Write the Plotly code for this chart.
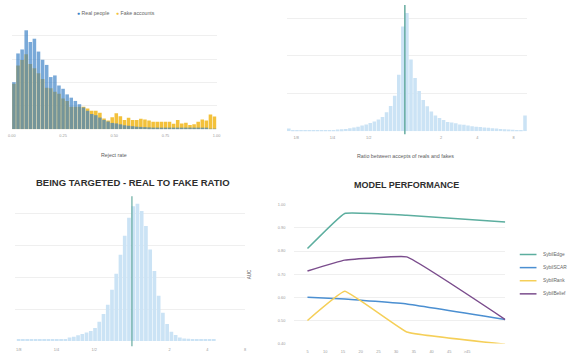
import math
import plotly.graph_objects as go

W, H = 572, 364

# ---------------- data ----------------
# Panel 1: reject rate histogram (50 bins of width 0.02 on [0, 1])
reject_bin_width = 0.02
reject_rate_bins = [round(reject_bin_width * (i + 0.5), 3) for i in range(50)]
real_people = [2.01, 3.24, 3.41, 4.23, 3.73, 3.87, 3.32, 2.97, 2.75, 2.23,
               2.30, 1.87, 1.73, 1.49, 1.35, 1.21, 1.07, 0.93, 0.79, 0.65,
               0.60, 0.50, 0.40, 0.33, 0.27, 0.25, 0.21, 0.17, 0.15, 0.13,
               0.11, 0.10, 0.09, 0.08, 0.07, 0.07, 0.06, 0.06, 0.05, 0.05,
               0.05, 0.04, 0.04, 0.04, 0.03, 0.03, 0.03, 0.03, 0.02, 0.02]
fake_accounts = [1.94, 2.72, 2.96, 3.21, 2.79, 2.61, 2.39, 2.15, 1.77, 1.75,
                 1.60, 1.52, 1.31, 1.21, 0.96, 0.96, 0.96, 0.96, 0.89, 0.79,
                 0.79, 0.70, 0.46, 0.37, 0.51, 0.68, 0.56, 0.39, 0.49, 0.39,
                 0.39, 0.45, 0.42, 0.37, 0.32, 0.32, 0.32, 0.32, 0.32, 0.23,
                 0.39, 0.25, 0.28, 0.18, 0.21, 0.32, 0.42, 0.37, 0.63, 0.54]
reject_ticks = [0, 0.25, 0.5, 0.75, 1.0]
reject_ticktext = ["0.00", "0.25", "0.50", "0.75", "1.00"]

# Panel 2: ratio between accepts of reals and fakes (log2 bins)
ratio_bin_width = 0.1125          # in octaves
accepts_bin_start = -3.2625
accepts_ratio_counts = [0.07, 0.02, 0.02, 0.02, 0.02, 0.025, 0.025, 0.03, 0.03, 0.03,
                        0.03, 0.035, 0.045, 0.05, 0.06, 0.08, 0.10, 0.12, 0.15, 0.18,
                        0.22, 0.26, 0.31, 0.38, 0.50, 0.67, 0.94, 1.50, 2.78, 3.14,
                        1.90, 1.41, 1.07, 0.83, 0.66, 0.52, 0.42, 0.35, 0.30, 0.245,
                        0.23, 0.21, 0.18, 0.17, 0.15, 0.13, 0.12, 0.11, 0.10, 0.09,
                        0.08, 0.07, 0.06, 0.05, 0.045, 0.04, 0.035, 0.03, 0.42]
accepts_bins = [accepts_bin_start + ratio_bin_width * (i + 0.5) for i in range(len(accepts_ratio_counts))]

# Panel 3: being targeted - real to fake ratio
targeted_bin_start = -3.06
targeted_ratio_counts = [0.05, 0.05, 0.04, 0.05, 0.04, 0.05, 0.04, 0.05, 0.04, 0.05,
                         0.05, 0.06, 0.11, 0.13, 0.18, 0.22, 0.27, 0.31, 0.41, 0.60,
                         0.85, 1.14, 1.61, 2.11, 2.71, 3.30, 3.87, 4.23, 4.31, 4.08,
                         3.61, 2.87, 2.20, 1.42, 0.89, 0.53, 0.29, 0.19, 0.11, 0.08,
                         0.07, 0.06, 0.06, 0.05, 0.05, 0.06, 0.05]
targeted_bins = [targeted_bin_start + ratio_bin_width * (i + 0.5) for i in range(len(targeted_ratio_counts))]

reference_ratio = 1
ratio_ticks = [-3, -2, -1, 1, 2, 3]
ratio_ticktext = ["1/8", "1/4", "1/2", "2", "4", "8"]

# Panel 4: model performance
model_x = [5, 15.5, 33, 60.8]
sybil_edge = [0.811, 0.963, 0.955, 0.926]
sybil_scar = [0.600, 0.593, 0.571, 0.504]
sybil_rank = [0.500, 0.626, 0.450, 0.397]
sybil_belief = [0.714, 0.761, 0.775, 0.504]
model_ticks = [5, 10, 15, 20, 25, 30, 35, 40, 45, 50]
model_ticktext = ["5", "10", "15", "20", "25", "30", "35", "40", "45", ">45"]
auc_ticks = [0.4, 0.5, 0.6, 0.7, 0.8, 0.9, 1.0]

# ---------------- style ----------------
FONT = "Liberation Sans, Arial, sans-serif"
BLUE = "#3a80c6"
YELLOW = "#f3c23c"
LIGHT = "#cbe3f5"
TEAL = "#4f9f91"
GRID = "#efefef"
TICK_FONT = dict(family=FONT, size=3.9, color="#9a9a9a")
LABEL_COLOR = "#5c5c5c"
TITLE_COLOR = "#2e2e2e"
model_series = [("SybilEdge", sybil_edge, "#5cae9f"),
                ("SybilSCAR", sybil_scar, "#4b8fd1"),
                ("SybilRank", sybil_rank, "#f5cf58"),
                ("SybilBelief", sybil_belief, "#7b4d8d")]


def fx(p):
    return p / W


def fy(p):
    return 1 - p / H


fig = go.Figure()

# Panel 1
fig.add_trace(go.Bar(x=reject_rate_bins, y=fake_accounts, name="Fake accounts",
                     marker=dict(color=YELLOW, line=dict(width=0)), xaxis="x", yaxis="y"))
fig.add_trace(go.Bar(x=reject_rate_bins, y=real_people, name="Real people", opacity=0.68,
                     marker=dict(color=BLUE, line=dict(width=0)), xaxis="x", yaxis="y"))

# Panel 2
fig.add_trace(go.Bar(x=accepts_bins, y=accepts_ratio_counts, marker=dict(color=LIGHT, line=dict(width=0)),
                     xaxis="x2", yaxis="y2"))
# Panel 3
fig.add_trace(go.Bar(x=targeted_bins, y=targeted_ratio_counts, marker=dict(color=LIGHT, line=dict(width=0)),
                     xaxis="x3", yaxis="y3"))

# Panel 4
for name, vals, col in model_series:
    fig.add_trace(go.Scatter(x=model_x, y=vals, name=name, mode="lines",
                             line=dict(color=col, width=1.5, shape="spline", smoothing=0.25),
                             cliponaxis=False, xaxis="x4", yaxis="y4"))

# reference markers "1" on ratio axes
ref_x = math.log2(reference_ratio)
ax2_unit = (130 - 2) / 3.35
ax3_unit = (342.7 - 195.7) / 4.55
for xa, ya, off_px, unit in [("x2", "y2", 7, ax2_unit), ("x3", "y3", 9, ax3_unit)]:
    fig.add_trace(go.Scatter(x=[ref_x], y=[-off_px / unit], mode="markers+text", text=["1"],
                             textfont=dict(family=FONT, size=4, color="white"),
                             textposition="middle center",
                             marker=dict(size=8, color=TEAL), cliponaxis=False,
                             xaxis=xa, yaxis=ya))

shapes = [
    dict(type="line", xref="x2", yref="paper", x0=ref_x, x1=ref_x, y0=fy(133), y1=fy(2),
         line=dict(color=TEAL, width=1.3), layer="above"),
    dict(type="line", xref="x3", yref="paper", x0=ref_x, x1=ref_x, y0=fy(348), y1=fy(196),
         line=dict(color=TEAL, width=1.3), layer="above", opacity=0.8),
]

annotations = []


def ann(text, x, y, size, color, bold=False, xanchor="center", angle=0):
    annotations.append(dict(text=f"<b>{text}</b>" if bold else text, x=fx(x), y=fy(y),
                            xref="paper", yref="paper", showarrow=False,
                            xanchor=xanchor, yanchor="middle", textangle=angle,
                            font=dict(family=FONT, size=size, color=color)))


ann("Reject rate", 112, 154, 5.3, LABEL_COLOR)
ann("Ratio between accepts of reals and fakes", 408, 155, 5.3, LABEL_COLOR)
ann("BEING TARGETED - REAL TO FAKE RATIO", 131.5, 182, 9.5, TITLE_COLOR, bold=True)
ann("MODEL PERFORMANCE", 408.5, 185, 9.0, TITLE_COLOR, bold=True)
ann("AUC", 249, 275, 4.5, LABEL_COLOR, angle=-90)

# top-left legend
ann(f"<span style='color:{BLUE}'>●</span> Real people", 72, 10, 5.2, "#666666", xanchor="left")
ann(f"<span style='color:{YELLOW}'>●</span> Fake accounts", 112, 10, 5.2, "#666666", xanchor="left")

# bottom-right legend
LEG_X0, LEG_Y0, LEG_DY, LEG_LEN = 524, 255, 13.3, 17
for i, (name, vals, col) in enumerate(model_series):
    yy = LEG_Y0 + i * LEG_DY
    shapes.append(dict(type="line", xref="paper", yref="paper", x0=fx(LEG_X0), x1=fx(LEG_X0 + LEG_LEN),
                       y0=fy(yy), y1=fy(yy), line=dict(color=col, width=1.5)))
    ann(name, LEG_X0 + LEG_LEN + 5, yy, 4.8, "#666666", xanchor="left")

common_x = dict(showgrid=False, zeroline=False, showline=False, ticks="", tickfont=TICK_FONT,
                fixedrange=True)
common_y = dict(showgrid=True, gridcolor=GRID, gridwidth=1, zeroline=False, showline=False, ticks="",
                fixedrange=True)

fig.update_layout(
    width=W, height=H, autosize=False,
    margin=dict(l=0, r=0, t=0, b=0, pad=0),
    paper_bgcolor="white", plot_bgcolor="rgba(0,0,0,0)",
    showlegend=False, barmode="overlay", bargap=0.13,
    font=dict(family=FONT),
    xaxis=dict(domain=[fx(8), fx(216)], range=[0, 1], tickvals=reject_ticks, ticktext=reject_ticktext,
               anchor="y", ticklabelstandoff=3, **common_x),
    yaxis=dict(domain=[fy(128), fy(26)], range=[0, 4.3], tickvals=[1, 2, 3, 4], showticklabels=False,
               anchor="x", **common_y),
    xaxis2=dict(domain=[fx(287.3), fx(531.4)], range=[-3.2625, 3.375], tickvals=ratio_ticks,
                ticktext=ratio_ticktext, anchor="y2", ticklabelstandoff=3, **common_x),
    yaxis2=dict(domain=[fy(130), fy(2)], range=[0, 3.35], tickvals=[1, 2, 3], showticklabels=False,
                anchor="x2", **common_y),
    xaxis3=dict(domain=[fx(11.6), fx(244.9)], range=[-3.09, 3.0], tickvals=ratio_ticks,
                ticktext=ratio_ticktext, anchor="y3", ticklabelstandoff=5, **common_x),
    yaxis3=dict(domain=[fy(342.7), fy(195.7)], range=[0, 4.55], tickvals=[1, 2, 3, 4], showticklabels=False,
                anchor="x3", **common_y),
    xaxis4=dict(domain=[fx(295), fx(509.3)], range=[1.3, 60.8], tickvals=model_ticks,
                ticktext=model_ticktext, anchor="y4", ticklabelstandoff=5, **common_x),
    yaxis4=dict(domain=[fy(345.3), fy(204.7)], range=[0.4, 1.0], tickvals=auc_ticks, tickformat=".2f",
                tickfont=TICK_FONT, anchor="x4", ticklabelstandoff=8, **common_y),
    shapes=shapes, annotations=annotations,
)

fig.write_html("out.html", config={"displayModeBar": False},
               post_script="document.body.style.margin='0';document.body.style.padding='0';")
